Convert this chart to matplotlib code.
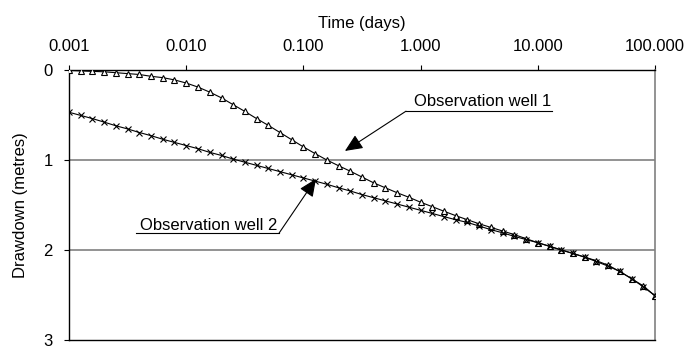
import matplotlib
matplotlib.use("Agg")
import matplotlib.pyplot as plt
from matplotlib.ticker import FixedLocator, FuncFormatter

plt.rcParams['font.family'] = ['Liberation Sans', 'DejaVu Sans']
plt.rcParams['font.size'] = 12

# time (days), 10 points per decade
time_days = [
    0.001, 0.00126, 0.00158, 0.002, 0.00251, 0.00316, 0.00398, 0.00501, 0.00631, 0.00794,
    0.01, 0.0126, 0.0158, 0.02, 0.0251, 0.0316, 0.0398, 0.0501, 0.0631, 0.0794,
    0.1, 0.126, 0.158, 0.2, 0.251, 0.316, 0.398, 0.501, 0.631, 0.794,
    1.0, 1.26, 1.58, 2.0, 2.51, 3.16, 3.98, 5.01, 6.31, 7.94,
    10.0, 12.6, 15.8, 20.0, 25.1, 31.6, 39.8, 50.1, 63.1, 79.4,
    100.0,
]

# drawdown (metres)
well1 = [
    0.005, 0.01, 0.015, 0.02, 0.03, 0.04, 0.05, 0.07, 0.085, 0.11,
    0.145, 0.19, 0.245, 0.31, 0.385, 0.46, 0.54, 0.615, 0.695, 0.775,
    0.855, 0.93, 1.00, 1.065, 1.125, 1.19, 1.255, 1.31, 1.365, 1.415,
    1.47, 1.52, 1.57, 1.62, 1.665, 1.71, 1.75, 1.79, 1.83, 1.875,
    1.92, 1.96, 2.00, 2.04, 2.08, 2.12, 2.17, 2.24, 2.32, 2.40,
    2.51,
]
well2 = [
    0.47, 0.505, 0.54, 0.58, 0.62, 0.655, 0.695, 0.73, 0.77, 0.805,
    0.84, 0.875, 0.915, 0.95, 0.99, 1.025, 1.06, 1.095, 1.13, 1.165,
    1.2, 1.235, 1.27, 1.31, 1.345, 1.385, 1.42, 1.455, 1.49, 1.525,
    1.56, 1.595, 1.63, 1.665, 1.695, 1.735, 1.775, 1.81, 1.85, 1.885,
    1.92, 1.96, 2.00, 2.04, 2.08, 2.13, 2.18, 2.24, 2.32, 2.41,
    2.51,
]

x_ticks = [0.001, 0.01, 0.1, 1, 10, 100]
y_ticks = [0, 1, 2, 3]

fig = plt.figure(figsize=(6.91, 3.5), dpi=100)
ax = fig.add_axes([0.0999, 0.029, 0.848, 0.771])

for y in [1, 2]:
    ax.axhline(y, color='#808080', lw=1.2, zorder=1)

ax.plot(time_days, well1, color='black', lw=0.8, marker='^', ms=5,
        mfc='white', mec='black', mew=0.8, zorder=3)
ax.plot(time_days, well2, color='black', lw=0.8, marker='x', ms=5,
        mec='black', mew=0.8, zorder=4)

ax.set_xscale('log')
ax.set_xlim(0.001, 100)
ax.set_ylim(3, 0)

ax.xaxis.set_major_locator(FixedLocator(x_ticks))
ax.xaxis.set_minor_locator(FixedLocator([]))
ax.xaxis.set_major_formatter(FuncFormatter(lambda v, p: f"{v:.3f}"))
ax.xaxis.tick_top()
ax.xaxis.set_label_position('top')
ax.set_yticks(y_ticks)

ax.tick_params(axis='x', direction='out', length=3.6, width=0.8,
               labelsize=12, pad=8)
ax.tick_params(axis='y', direction='out', length=3.6, width=0.8,
               labelsize=12, pad=8)
ax.set_xlabel("Time (days)", fontsize=12, labelpad=8)
ax.set_ylabel("Drawdown (metres)", fontsize=12, labelpad=11)

for side in ['top', 'left', 'bottom']:
    ax.spines[side].set_color('black')
    ax.spines[side].set_linewidth(1.0)
ax.spines['right'].set_color('#808080')
ax.spines['right'].set_linewidth(1.2)

arrow = dict(arrowstyle='-|>,head_length=0.9,head_width=0.4', color='black',
             lw=0.8, shrinkA=0, shrinkB=0)

# Observation well 1 label
ax.annotate("", xy=(0.226, 0.90), xytext=(0.75, 0.458), arrowprops=arrow, zorder=5)
ax.plot([0.75, 13.2], [0.458, 0.458], color='black', lw=0.8)
ax.text(3.37, 0.403, "Observation well 1", ha='center', va='baseline', fontsize=12)

# Observation well 2 label
ax.annotate("", xy=(0.128, 1.21), xytext=(0.062, 1.813), arrowprops=arrow, zorder=5)
ax.plot([0.00373, 0.062], [1.813, 1.813], color='black', lw=0.8)
ax.text(0.0154, 1.777, "Observation well 2", ha='center', va='baseline', fontsize=12)

fig.savefig("out.png", dpi=100)
